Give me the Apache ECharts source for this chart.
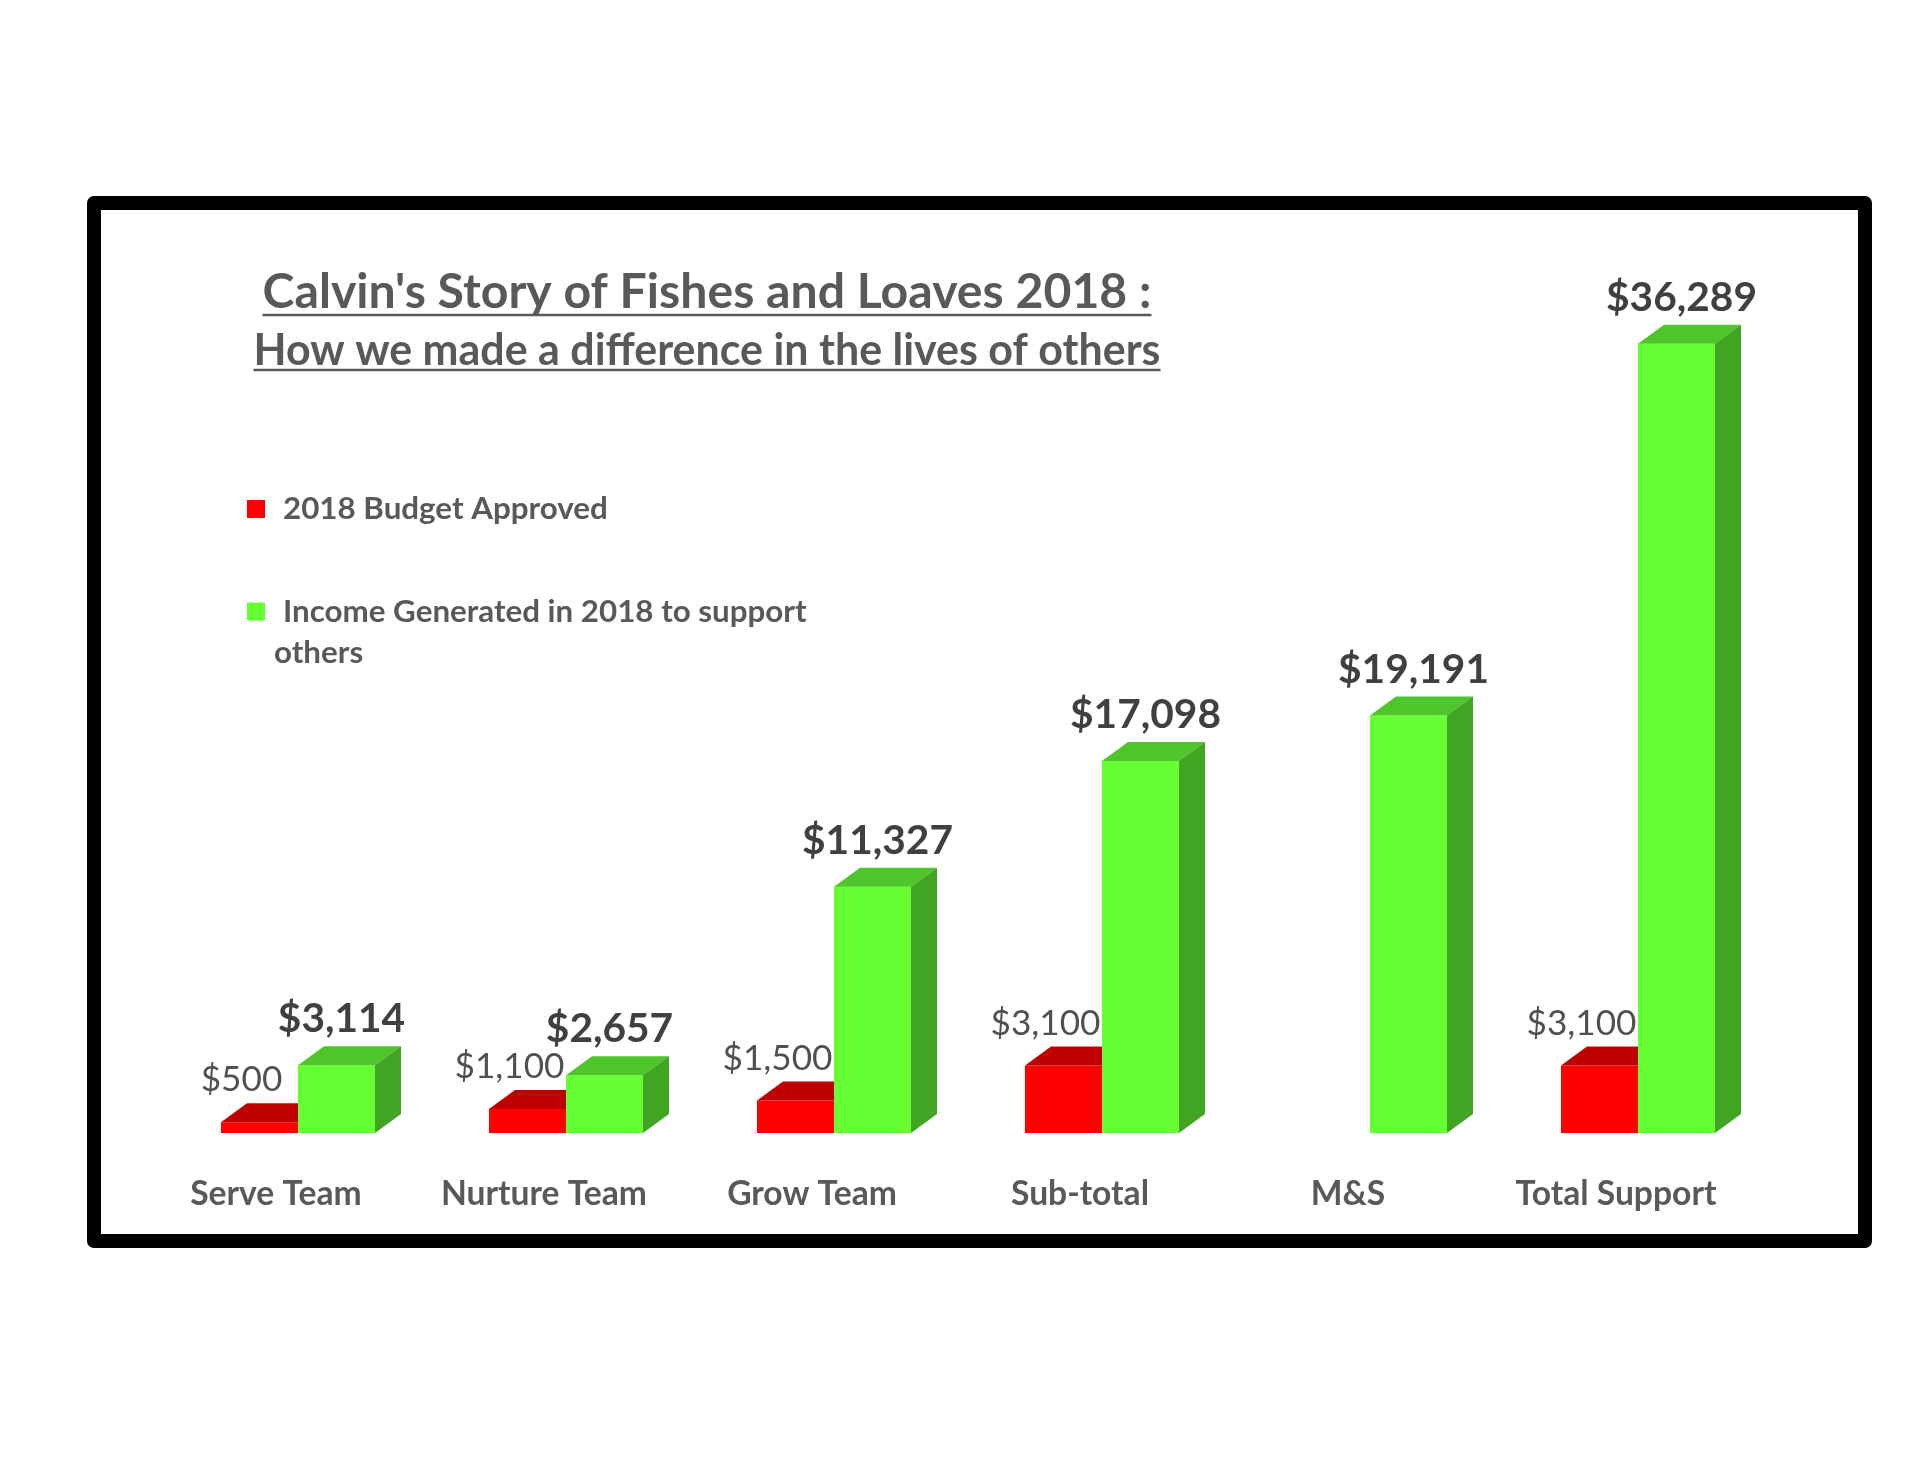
<!DOCTYPE html>
<html>
<head>
<meta charset="utf-8">
<script src="https://cdn.jsdelivr.net/npm/echarts@6/dist/echarts.min.js"></script>
<style>
  html, body { margin: 0; padding: 0; background: #ffffff; }
  #chart { width: 1920px; height: 1484px; }
</style>
</head>
<body>
<div id="chart"></div>
<script>
// ---- data ----
const categories = ['Serve Team', 'Nurture Team', 'Grow Team', 'Sub-total', 'M&S', 'Total Support'];
const budgetApproved = [500, 1100, 1500, 3100, null, 3100];
const incomeGenerated = [3114, 2657, 11327, 17098, 19191, 36289];
const seriesNames = ['2018 Budget Approved', 'Income Generated in 2018 to support others'];
const titleLines = ["Calvin's Story of Fishes and Loaves 2018 :", 'How we made a difference in the lives of others'];

// ---- styling ----
const FONT = 'Lato, "Noto Sans", sans-serif';
const GRAY = '#595959';
const DARK = '#404040';
const BAR_W = 77, DX = 26, DY = 19, SHIFT = 22;
const redFaces = { front: '#FF0000', top: '#C00000', side: '#A00000' };
const greenFaces = { front: '#66FF33', top: '#4EC52A', side: '#41A523' };

const ctx = document.createElement('canvas').getContext('2d');
function measure(text, weight, size) {
  ctx.font = weight + ' ' + size + 'px ' + FONT;
  return ctx.measureText(text).width;
}
function fitSize(text, weight, target) {
  return 100 * target / measure(text, weight, 100);
}
const t1Size = fitSize(titleLines[0], 'bold', 889);
const t2Size = fitSize(titleLines[1], 'bold', 907);
const legendSize = fitSize('2018 Budget Approved', 'bold', 325);
const axisSize = fitSize('Total Support', 'bold', 201);
const greenLabelSize = fitSize('$36,289', 'bold', 151);
const redLabelSize = fitSize('$3,100', 'normal', 110);

const money = v => '$' + Number(v).toLocaleString('en-US');

function makeRenderItem(side, faces, label) {
  return function (params, api) {
    const v = api.value(1);
    if (v == null || isNaN(v)) return null;
    const base = api.coord([api.value(0), 0]);
    const topP = api.coord([api.value(0), v]);
    const boundary = base[0] + SHIFT;
    const x0 = side === 'left' ? boundary - BAR_W : boundary;
    const x1 = x0 + BAR_W;
    const yb = base[1], yt = topP[1];
    return {
      type: 'group',
      children: [
        { type: 'rect', shape: { x: x0, y: yt, width: BAR_W, height: yb - yt }, style: { fill: faces.front } },
        { type: 'polygon', shape: { points: [[x0, yt], [x0 + DX, yt - DY], [x1 + DX, yt - DY], [x1, yt]] }, style: { fill: faces.top } },
        { type: 'polygon', shape: { points: [[x1, yt], [x1 + DX, yt - DY], [x1 + DX, yb - DY], [x1, yb]] }, style: { fill: faces.side } },
        {
          type: 'text',
          x: (x0 + x1) / 2 + label.dx,
          y: yt - label.dy,
          style: {
            text: money(v),
            fill: label.color,
            fontSize: label.size,
            fontWeight: label.weight,
            fontFamily: FONT,
            align: 'center',
            verticalAlign: 'middle'
          }
        }
      ]
    };
  };
}

const chart = echarts.init(document.getElementById('chart'), null, { renderer: 'canvas' });

const w1 = measure(titleLines[0], 'bold', t1Size);
const w2 = measure(titleLines[1], 'bold', t2Size);
const titleX = 707;

const option = {
  backgroundColor: '#ffffff',
  animation: false,
  grid: { left: 142, width: 1608, top: 263, height: 870 },
  xAxis: {
    type: 'category',
    data: categories,
    axisLine: { show: false },
    axisTick: { show: false },
    splitLine: { show: false },
    axisLabel: {
      color: GRAY,
      fontSize: axisSize,
      fontWeight: 'bold',
      fontFamily: FONT,
      margin: 44,
      interval: 0
    }
  },
  yAxis: { type: 'value', min: 0, max: 40000, show: false, splitLine: { show: false } },
  legend: [
    {
      data: [{ name: seriesNames[0], icon: 'rect' }],
      orient: 'vertical',
      left: 247,
      top: 488,
      padding: 0,
      itemWidth: 18,
      itemHeight: 18,
      textStyle: {
        color: GRAY, fontSize: legendSize, fontWeight: 'bold', fontFamily: FONT,
        lineHeight: 42, padding: [0, 0, 0, 13]
      }
    },
    {
      data: [{ name: seriesNames[1], icon: 'rect' }],
      orient: 'vertical',
      left: 247,
      top: 555,
      padding: 0,
      itemWidth: 18,
      itemHeight: 18,
      formatter: function () {
        return '{e| }\n{t1|Income Generated in 2018 to support}\n{t2|others}';
      },
      textStyle: {
        color: GRAY, fontSize: legendSize, fontWeight: 'bold', fontFamily: FONT,
        padding: [0, 0, 0, 4],
        rich: {
          e: { lineHeight: 41, fontSize: legendSize, fontFamily: FONT },
          t1: { lineHeight: 41, fontSize: legendSize, fontWeight: 'bold', color: GRAY, fontFamily: FONT, padding: [0, 0, 0, 9] },
          t2: { lineHeight: 41, fontSize: legendSize, fontWeight: 'bold', color: GRAY, fontFamily: FONT }
        }
      }
    }
  ],
  graphic: [
    {
      type: 'rect', silent: true, z: 0,
      shape: { x: 94, y: 203, width: 1771, height: 1038 },
      style: { fill: 'none', stroke: '#000000', lineWidth: 14, lineJoin: 'round' }
    },
    {
      type: 'text', silent: true, x: titleX, y: 292,
      style: { text: titleLines[0], fill: GRAY, fontSize: t1Size, fontWeight: 'bold', fontFamily: FONT, align: 'center', verticalAlign: 'middle' }
    },
    {
      type: 'line', silent: true,
      shape: { x1: titleX - w1 / 2, y1: 315, x2: titleX + w1 / 2, y2: 315 },
      style: { stroke: GRAY, lineWidth: 2.5 }
    },
    {
      type: 'text', silent: true, x: titleX, y: 351,
      style: { text: titleLines[1], fill: GRAY, fontSize: t2Size, fontWeight: 'bold', fontFamily: FONT, align: 'center', verticalAlign: 'middle' }
    },
    {
      type: 'line', silent: true,
      shape: { x1: titleX - w2 / 2, y1: 370, x2: titleX + w2 / 2, y2: 370 },
      style: { stroke: GRAY, lineWidth: 2.5 }
    }
  ],
  series: [
    {
      name: seriesNames[0],
      type: 'custom',
      coordinateSystem: 'cartesian2d',
      itemStyle: { color: redFaces.front },
      encode: { x: 0, y: 1 },
      data: budgetApproved.map((v, i) => [i, v == null ? '-' : v]),
      renderItem: makeRenderItem('left', redFaces, { dx: -18, dy: 42, color: '#505050', size: redLabelSize, weight: 'normal' }),
      z: 2
    },
    {
      name: seriesNames[1],
      type: 'custom',
      coordinateSystem: 'cartesian2d',
      itemStyle: { color: greenFaces.front },
      encode: { x: 0, y: 1 },
      data: incomeGenerated.map((v, i) => [i, v]),
      renderItem: makeRenderItem('right', greenFaces, { dx: 5, dy: 46, color: DARK, size: greenLabelSize, weight: 'bold' }),
      z: 3
    }
  ]
};

chart.setOption(option);
</script>
</body>
</html>
